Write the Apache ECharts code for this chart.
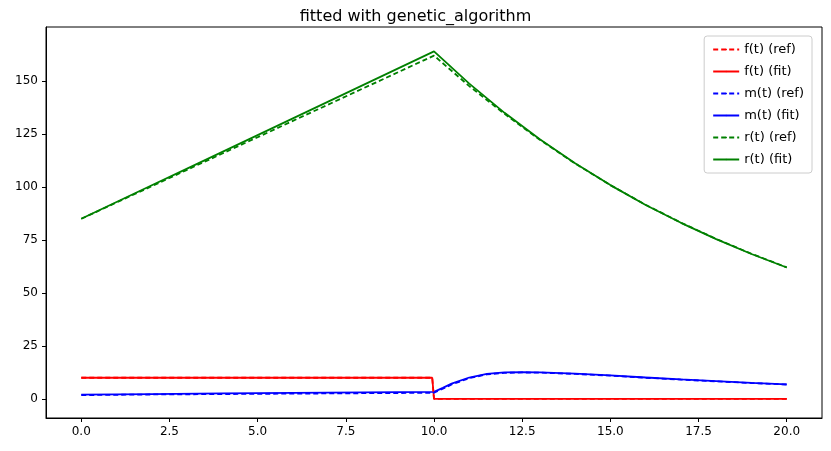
<!DOCTYPE html>
<html><head><meta charset="utf-8">
<script src="https://cdn.jsdelivr.net/npm/echarts@6/dist/echarts.min.js"></script>
<style>html,body{margin:0;padding:0;background:#fff}#c{width:831px;height:451px}</style>
</head><body><div id="c"></div>
<script>
// time points and series values
const tF = [0, 9.95, 10.0, 20];
const fRef = [10, 10, 0, 0];
const fFit = [10, 10, 0, 0];

const tM = [0, 2, 4, 6, 8, 10, 10.25, 10.5, 11, 11.5, 12, 12.5, 13, 14, 15, 16, 17, 18, 19, 20];
const mRef = [1.8, 2.1, 2.3, 2.5, 2.7, 2.9, 4.8, 6.8, 9.8, 11.6, 12.3, 12.5, 12.4, 11.8, 11.0, 10.0, 9.1, 8.3, 7.5, 6.8];
const mFit = [2.0, 2.3, 2.6, 2.9, 3.1, 3.3, 5.2, 7.2, 10.1, 11.8, 12.5, 12.6, 12.5, 11.9, 11.1, 10.1, 9.2, 8.4, 7.6, 6.9];

const tR = [0, 1, 2, 3, 4, 5, 6, 7, 8, 9, 10, 11, 12, 13, 14, 15, 16, 17, 18, 19, 20];
const rRef = [85, 92.7, 100.4, 108.1, 115.8, 123.5, 131.2, 138.9, 146.6, 154.3, 162, 147.6, 134.5, 122.3, 111.1, 100.9, 91.6, 83.2, 75.5, 68.5, 62.1];
const rFit = [85, 92.9, 100.8, 108.7, 116.6, 124.5, 132.4, 140.3, 148.2, 156.1, 164, 148.8, 135.0, 122.5, 111.2, 100.9, 91.5, 83.1, 75.4, 68.4, 62.0];

const xTicks = [0, 2.5, 5, 7.5, 10, 12.5, 15, 17.5, 20];
const yTicks = [0, 25, 50, 75, 100, 125, 150];

const zip = (a, b) => a.map((v, i) => [v, b[i]]);
const mk = (name, t, v, color, dashed, z) => ({
  name, type: 'line', data: zip(t, v), showSymbol: false, symbol: 'none', z,
  lineStyle: { color, width: 1.8, type: dashed ? [5, 3] : 'solid' },
  itemStyle: { color }, animation: false
});

const chart = echarts.init(document.getElementById('c'));
chart.setOption({
  animation: false,
  title: { text: 'fitted with genetic_algorithm', left: 'center', top: 4,
    textStyle: { fontFamily: 'DejaVu Sans', fontSize: 16, fontWeight: 'normal', color: '#000' } },
  grid: { left: 46, right: 9, top: 27, bottom: 33, show: true, borderColor: '#000', borderWidth: 1 },
  legend: {
    orient: 'vertical', right: 19, top: 36, itemWidth: 26, itemHeight: 2, itemGap: 9,
    borderColor: '#ccc', borderWidth: 1, borderRadius: 3, padding: [7, 8],
    textStyle: { fontFamily: 'DejaVu Sans', fontSize: 13, color: '#000' },
    data: ['f(t) (ref)', 'f(t) (fit)', 'm(t) (ref)', 'm(t) (fit)', 'r(t) (ref)', 'r(t) (fit)']
  },
  xAxis: {
    type: 'value', min: -1, max: 21, splitLine: { show: false },
    axisLine: { onZero: false, lineStyle: { color: '#000' } },
    axisTick: { customValues: xTicks, length: 4, lineStyle: { color: '#000' } },
    axisLabel: { customValues: xTicks, formatter: v => v.toFixed(1), color: '#000',
      fontFamily: 'DejaVu Sans', fontSize: 12, margin: 8 }
  },
  yAxis: {
    type: 'value', min: -9, max: 175.5, splitLine: { show: false },
    axisLine: { show: true, onZero: false, lineStyle: { color: '#000' } },
    axisTick: { show: true, customValues: yTicks, length: 4, lineStyle: { color: '#000' } },
    axisLabel: { customValues: yTicks, color: '#000', fontFamily: 'DejaVu Sans', fontSize: 12, margin: 8 }
  },
  series: [
    mk('f(t) (ref)', tF, fRef, '#ff0000', true, 3),
    mk('f(t) (fit)', tF, fFit, '#ff0000', false, 2),
    mk('m(t) (ref)', tM, mRef, '#0000ff', true, 3),
    mk('m(t) (fit)', tM, mFit, '#0000ff', false, 2),
    mk('r(t) (ref)', tR, rRef, '#008000', true, 3),
    mk('r(t) (fit)', tR, rFit, '#008000', false, 2)
  ]
});
</script></body></html>
